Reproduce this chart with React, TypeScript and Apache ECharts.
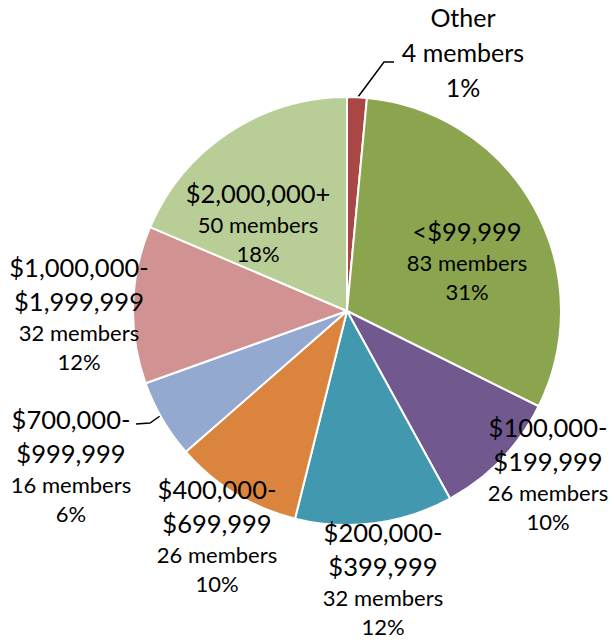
import React, { useEffect, useRef } from "react";
import * as echarts from "echarts";

const CATEGORIES = [
  "Other",
  "<$99,999",
  "$100,000-$199,999",
  "$200,000-$399,999",
  "$400,000-$699,999",
  "$700,000-$999,999",
  "$1,000,000-$1,999,999",
  "$2,000,000+",
];
const MEMBERS = [4, 83, 26, 32, 26, 16, 32, 50];
const PERCENT_LABELS = ["1%", "31%", "10%", "12%", "10%", "6%", "12%", "18%"];

const COLORS = [
  "#AA4643",
  "#8BA54E",
  "#71588F",
  "#4198AF",
  "#DB843D",
  "#93A9CF",
  "#D19392",
  "#B9CD96",
];

// label centres (px) and leader lines (style/layout, not data)
const LABEL_CENTERS: number[][] = [
  [463, 52],
  [467, 260],
  [548, 473],
  [383, 578],
  [217, 535],
  [71, 465],
  [79, 313],
  [258, 222],
];
const LEADERS: Record<number, number[][]> = {
  0: [
    [358, 97],
    [384, 62],
    [394, 62],
  ],
  5: [
    [160, 416],
    [150, 423],
    [136, 424],
  ],
};

const FONT = "Lato, 'Noto Sans', sans-serif";

export default function App() {
  const ref = useRef<HTMLDivElement>(null);
  useEffect(() => {
    if (!ref.current) return;
    const chart = echarts.init(ref.current, undefined, { renderer: "svg" });
    const data = CATEGORIES.map((name, i) => ({
      name,
      value: MEMBERS[i],
      itemStyle: { color: COLORS[i] },
      labelLine: { show: LEADERS[i] != null },
    }));
    chart.setOption({
      animation: false,
      backgroundColor: "#ffffff",
      series: [
        {
          type: "pie",
          center: [347, 311],
          radius: [0, 214],
          startAngle: 90,
          clockwise: true,
          avoidLabelOverlap: false,
          itemStyle: { borderColor: "#ffffff", borderWidth: 2 },
          data,
          label: {
            show: true,
            position: "outside",
            color: "#000",
            fontFamily: FONT,
            formatter: (p: any) => {
              const i = p.dataIndex;
              if (i === 0) {
                return `{o|${p.name}}\n{o|${MEMBERS[i]} members}\n{o|${PERCENT_LABELS[i]}}`;
              }
              const nameLines = String(p.name)
                .replace(/-\$/, "-\n$")
                .split("\n")
                .map((s) => `{a|${s}}`)
                .join("\n");
              return `${nameLines}\n{b|${MEMBERS[i]} members}\n{b|${PERCENT_LABELS[i]}}`;
            },
            rich: {
              a: { fontFamily: FONT, fontSize: 25.5, lineHeight: 34, color: "#000" },
              b: { fontFamily: FONT, fontSize: 22, lineHeight: 29, color: "#000" },
              o: { fontFamily: FONT, fontSize: 25, lineHeight: 35, color: "#000" },
            },
          },
          labelLine: {
            show: true,
            lineStyle: { color: "#000", width: 1.5 },
            smooth: false,
          },
          labelLayout: (params: any) => {
            const i = params.dataIndex;
            const [x, y] = LABEL_CENTERS[i];
            const out: any = { x, y, align: "center", verticalAlign: "middle" };
            if (LEADERS[i]) out.labelLinePoints = LEADERS[i];
            return out;
          },
        },
      ],
    });
    return () => chart.dispose();
  }, []);
  return (
    <div
      ref={ref}
      style={{ position: "fixed", left: 0, top: 0, width: 609, height: 641 }}
    />
  );
}
